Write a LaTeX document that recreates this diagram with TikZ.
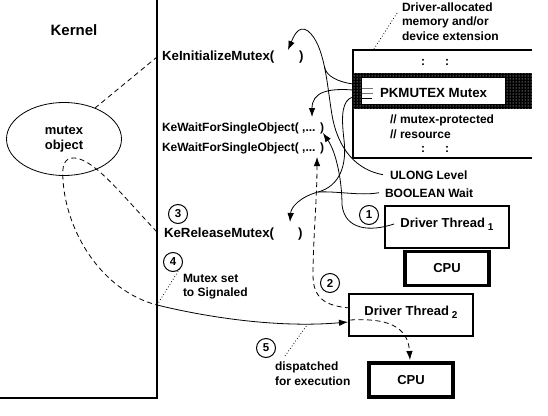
\documentclass[tikz,border=0pt]{standalone}
\usepackage{fontspec}
\setmainfont{Liberation Sans}
\usetikzlibrary{arrows.meta,shapes.geometric,patterns}
\begin{document}
\begin{tikzpicture}[x=1pt,y=-1pt,
  every node/.style={inner sep=0pt, outer sep=0pt},
  lbl/.style={font=\bfseries\fontsize{12}{14}\selectfont, anchor=base west},
  fn/.style={font=\bfseries\fontsize{13.3}{15}\selectfont, anchor=base west},
  conn/.style={line width=0.8pt},
  arr/.style={conn,-{Latex[length=9pt,width=6.5pt]}},
  dsh/.style={conn,dash pattern=on 5pt off 3.5pt},
  dotln/.style={line width=0.8pt, dash pattern=on 0.8pt off 2.2pt},
  num/.style={draw, circle, line width=1pt, minimum size=19pt, font=\bfseries\fontsize{11.5}{11.5}\selectfont},
  tbox/.style={draw, line width=1.2pt, minimum width=124pt, minimum height=42pt, text height=9.5pt, text depth=9.5pt, font=\bfseries\fontsize{13}{15}\selectfont},
  cpubox/.style={draw, line width=3.2pt, minimum width=84pt, minimum height=34pt, font=\bfseries\fontsize{13}{15}\selectfont}
]
\useasboundingbox (0,0) rectangle (548,415);
\fill[white] (0,0) rectangle (548,415);

% kernel area
\draw[line width=1.2pt] (157,0) -- (157,398) -- (0,398);
\node[font=\bfseries\fontsize{15}{17}\selectfont, anchor=base] (kernel) at (74,35.5) {Kernel};
\node[draw, ellipse, line width=0.8pt, minimum width=115pt, minimum height=73pt, align=center,
      font=\bfseries\fontsize{13}{14.5}\selectfont] (mo) at (64,139) {mutex\\object};

% memory block
\draw[line width=1.2pt] (532,50) -- (353,50) -- (353,158) -- (532,158);
\fill[black] (353,73) rectangle (532,109);
\fill[pattern=dots, pattern color=white] (353,73) rectangle (532,109);
\fill[white] (362,78) rectangle (505,104);
\draw[black!55, line width=0.8pt] (362,88) -- (373,88);
\draw[black!55, line width=0.8pt] (362,93) -- (373,93);
\draw[line width=0.8pt] (362,98) -- (372,98);
\node[fn] (pkm) at (380,97) {PKMUTEX Mutex};
\node[lbl] (dots1a) at (421,65) {:};
\node[lbl] (dots1b) at (445,65) {:};
\node[lbl] (cm1) at (390,123) {// mutex-protected};
\node[lbl] (cm2) at (390,138) {// resource};
\node[lbl] (dots2a) at (421,152) {:};
\node[lbl] (dots2b) at (445,152) {:};
\node[lbl] (da1) at (402,11) {Driver-allocated};
\node[lbl] (da2) at (402,25.5) {memory and/or};
\node[lbl] (da3) at (402,40) {device extension};
\coordinate (memc1) at (397,13);
\coordinate (memc2) at (374,49);
\draw[dotln] (memc1) -- (memc2);

% function texts
\node[fn] (kinit) at (162,60) {KeInitializeMutex(};
\node[fn] (kinitp) at (299,60) {)};
\node[lbl] (kw1) at (162,131) {KeWaitForSingleObject( ,... )};
\node[lbl] (kw2) at (162,151) {KeWaitForSingleObject( ,... )};
\node[fn] (krel) at (164,237) {KeReleaseMutex(};
\node[fn] (krelp) at (298,237) {)};
\node[lbl] (ulong) at (390,179) {ULONG Level};
\node[lbl] (bool) at (385,197) {BOOLEAN Wait};

% threads and CPUs
\node[tbox] (t1) at (447,227) {Driver Thread\hspace{3pt}\smash{\raisebox{-3pt}{\fontsize{10}{10}\selectfont 1}}};
\node[cpubox] (cpu1) at (447,268.5) {CPU};
\node[tbox] (t2) at (411,315) {Driver Thread\hspace{3pt}\smash{\raisebox{-3pt}{\fontsize{10}{10}\selectfont 2}}};
\node[cpubox] (cpu2) at (411,380) {CPU};

% numbered circles
\node[num] (n1) at (369,215) {1};
\node[num] (n2) at (330,283) {2};
\node[num] (n3) at (178,214) {3};
\node[num] (n4) at (173,262) {4};
\node[num] (n5) at (266,348) {5};
\node[lbl] (sig1) at (183,282) {Mutex set};
\node[lbl] (sig2) at (183,296) {to Signaled};
\node[lbl] (dsp1) at (275,370) {dispatched};
\node[lbl] (dsp2) at (275,385) {for execution};

% connection coordinates
\coordinate (pkA) at (353,84);
\coordinate (pkB) at (353,90);
\coordinate (pkC) at (353,97);
\coordinate (merge1) at (324.5,67);
\coordinate (merge2) at (318,192);
\coordinate (tipInit) at (288,50);
\coordinate (tipWait1) at (312,117);
\coordinate (tipWait1b) at (323,133);
\coordinate (tipWait2) at (317,157);
\coordinate (tipRel) at (290,222);
\coordinate (kl1) at (157,57);
\coordinate (krelk) at (157,232);
\coordinate (sig) at (157,305);
\coordinate (tipT2) at (348,322);
\coordinate (tipCpu2) at (410,360);
\coordinate (dispc) at (285,356);
\coordinate (curvec) at (307,325);

% kernel dashed links
\draw[dsh] (mo.45) -- (kl1);
\draw[dsh] (krelk) .. controls (122,195) and (95,160) .. (75,158)
  .. controls (63,157) and (62,168) .. (63,180)
  .. controls (66,230) and (100,290) .. (sig);
\draw[arr] (sig) .. controls (210,318) and (280,328) .. (tipT2);
\draw[dotln] (n4.-45) -- (sig);
\draw[dotln] (dispc) -- (curvec);

% parameter links
\draw[arr] ([xshift=-7pt]ulong.west) .. controls (357,170) and (338,150) .. (332,115)
  .. controls (327,85) and (325,45) .. (308,31)
  .. controls (298,24) and (293,38) .. (tipInit);
\draw[conn] (pkA) .. controls (338,82) and (326,76) .. (merge1);
\draw[arr] (pkB) .. controls (328,88) and (312,92) .. (tipWait1);
\draw[arr] (pkC) .. controls (342,100) and (341,115) .. (344,140)
  .. controls (347,165) and (340,186) .. (merge2)
  .. controls (300,197) and (291,207) .. (tipRel);
\draw[conn] ([xshift=-6pt]bool.west) .. controls (360,196) and (338,191) .. (merge2);

% thread links
\draw[arr] ([shift={(9,-3)}]t1.west) .. controls (370,232) and (345,230) .. (342,205)
  .. controls (342,180) and (336,152) .. (tipWait1b);
\draw[dsh,-{Latex[length=9pt,width=6.5pt]}] ([shift={(1,-7)}]t2.west) .. controls (325,306) and (313,298) .. (313,275)
  .. controls (313,240) and (317,200) .. (tipWait2);
\draw[dsh,-{Latex[length=9pt,width=6.5pt]}] ([shift={(1,5)}]t2.west) .. controls (385,318) and (408,325) .. (tipCpu2);
\end{tikzpicture}
\end{document}
